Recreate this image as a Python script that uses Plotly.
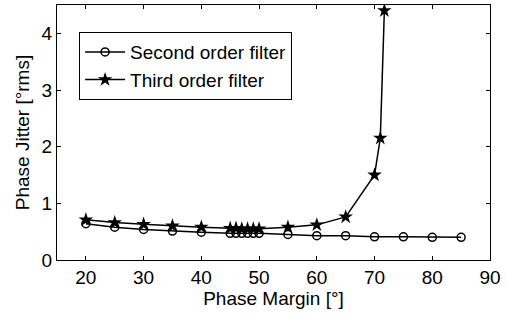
import plotly.graph_objects as go

pm_second = [20, 25, 30, 35, 40, 45, 46, 47, 48, 49, 50, 55, 60, 65, 70, 75, 80, 85]
jitter_second = [0.64, 0.58, 0.54, 0.51, 0.49, 0.47, 0.47, 0.47, 0.47, 0.47, 0.47,
                 0.45, 0.43, 0.43, 0.41, 0.41, 0.40, 0.40]
pm_third = [20, 25, 30, 35, 40, 45, 46, 47, 48, 49, 50, 55, 60, 65, 70, 71, 71.7]
jitter_third = [0.71, 0.66, 0.63, 0.60, 0.58, 0.56, 0.56, 0.55, 0.55, 0.55, 0.55,
                0.58, 0.62, 0.76, 1.5, 2.15, 4.4]
x_ticks = [20, 30, 40, 50, 60, 70, 80, 90]
y_ticks = [0, 1, 2, 3, 4]

FONT = "Liberation Sans, Arial"
FS = 19

fig = go.Figure()
fig.add_trace(go.Scatter(
    x=pm_second, y=jitter_second, mode="lines+markers", name="Second order filter",
    line=dict(color="black", width=1.5),
    marker=dict(symbol="circle-open", size=8, color="black", line=dict(width=1.5)),
))
fig.add_trace(go.Scatter(
    x=pm_third, y=jitter_third, mode="lines+markers", name="Third order filter",
    line=dict(color="black", width=1.5),
    marker=dict(symbol="star", size=11, color="black"),
))

axis_common = dict(
    showline=True, linecolor="black", linewidth=1, mirror="ticks",
    ticks="inside", ticklen=4, tickcolor="black", showgrid=False, zeroline=False,
    automargin=False,
    tickfont=dict(family=FONT, size=FS, color="black"),
)
fig.update_xaxes(range=[15, 90], tickvals=x_ticks,
                 title=dict(text="Phase Margin [°]", standoff=4,
                            font=dict(family=FONT, size=FS, color="black")),
                 **axis_common)
fig.update_yaxes(range=[0, 4.5], tickvals=y_ticks,
                 title=dict(text="Phase Jitter [°rms]", standoff=6,
                            font=dict(family=FONT, size=FS, color="black")),
                 **axis_common)

fig.update_layout(
    width=506, height=316,
    margin=dict(l=57, r=16, t=5, b=56),
    paper_bgcolor="white", plot_bgcolor="white",
    showlegend=True,
    legend=dict(x=0.051, y=0.894, xanchor="left", yanchor="top",
                bgcolor="white", bordercolor="black", borderwidth=1,
                font=dict(family=FONT, size=FS, color="black"),
                tracegroupgap=0, itemwidth=40),
)

fig.write_html("out.html", config={"displayModeBar": False},
               post_script="document.body.style.margin='0';")
